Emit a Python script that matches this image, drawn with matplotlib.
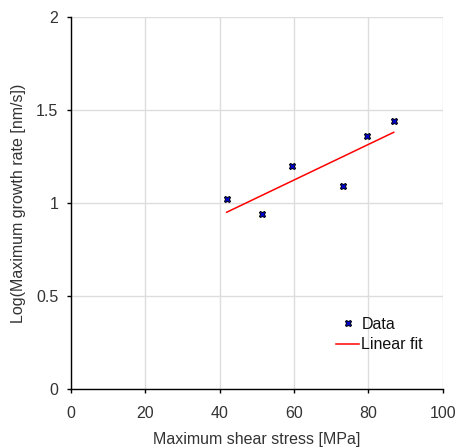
import numpy as np
import matplotlib.pyplot as plt

plt.rcParams["font.family"] = ["Liberation Sans", "DejaVu Sans"]

# measured points
stress = [41.9, 51.3, 59.4, 73.1, 79.6, 86.8]
log_rate = [1.02, 0.94, 1.20, 1.09, 1.36, 1.44]

# linear fit endpoints (as drawn)
fit_x = [41.9, 86.8]
fit_y = [0.95, 1.38]

fig = plt.figure(figsize=(4.57, 4.48), dpi=100)
ax = fig.add_axes([0.155, 0.132, 0.814, 0.830])

ax.plot(stress, log_rate, linestyle="none", marker="X", markersize=5,
        markerfacecolor="#0000cc", markeredgecolor="black", markeredgewidth=0.7,
        label="Data", zorder=3)
ax.plot(fit_x, fit_y, color="red", linewidth=1.1, label="Linear fit", zorder=2)

ax.set_xlim(0, 100)
ax.set_ylim(0, 2)
ax.set_xticks([0, 20, 40, 60, 80, 100])
ax.set_yticks([0, 0.5, 1, 1.5, 2])
ax.set_yticklabels(["0", "0.5", "1", "1.5", "2"])

ax.grid(True, color="#dddddd", linewidth=1)
ax.set_axisbelow(True)
for s in ["top", "right"]:
    ax.spines[s].set_visible(False)
for s in ["left", "bottom"]:
    ax.spines[s].set_color("black")
    ax.spines[s].set_linewidth(1)

ax.tick_params(axis="both", direction="out", length=3, width=1, labelsize=11.5,
               labelcolor="#333333")
ax.tick_params(axis="x", pad=9)
ax.tick_params(axis="y", pad=6)
ax.set_xlabel("Maximum shear stress [MPa]", fontsize=11.5, color="#333333", labelpad=8)
ax.set_ylabel("Log(Maximum growth rate [nm/s])", fontsize=11.5, color="#333333", labelpad=7)

leg = ax.legend(loc="lower right", bbox_to_anchor=(0.985, 0.06), frameon=False,
                fontsize=11.5, handlelength=1.4, handletextpad=0.15, labelspacing=0.35)
for t in leg.get_texts():
    t.set_color("#111111")

fig.savefig("out.png", dpi=100)
